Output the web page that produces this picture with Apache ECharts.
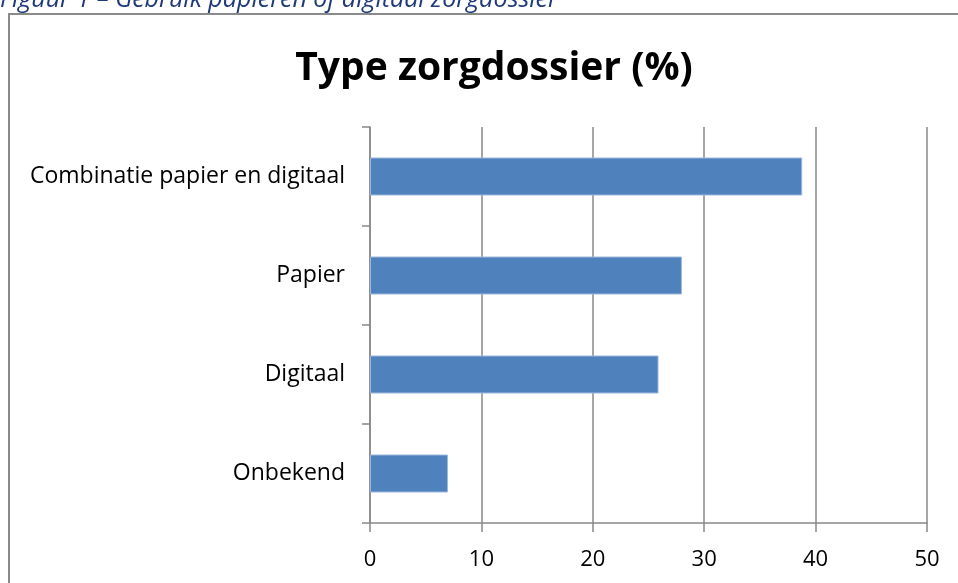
<!DOCTYPE html>
<html>
<head>
<meta charset="utf-8">
<script src="https://cdn.jsdelivr.net/npm/echarts@6/dist/echarts.min.js"></script>
<style>
html,body{margin:0;padding:0;background:#fff;}
#c{width:958px;height:583px;}
</style>
</head>
<body>
<div id="c"></div>
<script>
const categories = ["Combinatie papier en digitaal", "Papier", "Digitaal", "Onbekend"];
const values = [38.8, 28.0, 25.9, 7.0];
const xTicks = [0, 10, 20, 30, 40, 50];
const titleText = "Type zorgdossier (%)";
const captionText = "Figuur 1 \u2013 Gebruik papieren of digitaal zorgdossier";

const chart = echarts.init(document.getElementById('c'), null, {renderer: 'canvas'});
const FONT = '"Open Sans", "Noto Sans", sans-serif';
chart.setOption({
  animation: false,
  backgroundColor: '#fff',
  title: {
    text: titleText,
    left: 489, top: 44, textAlign: 'center',
    textStyle: {fontFamily: FONT, fontWeight: 'bold', fontSize: 39, color: '#000'}
  },
  graphic: [
    {type: 'rect', shape: {x: 9, y: 14, width: 1200, height: 1200}, style: {fill: null, stroke: '#8a8a8a', lineWidth: 2}, silent: true},
    {type: 'text', left: 0, top: -13, style: {text: captionText, fontFamily: FONT, fontStyle: 'italic', fontSize: 25, fill: '#1f3a7a'}}
  ],
  grid: {left: 370, right: 31, top: 127, bottom: 60, containLabel: false},
  xAxis: {
    type: 'value', min: xTicks[0], max: xTicks[xTicks.length - 1], interval: 10,
    axisLine: {show: true, lineStyle: {color: '#888', width: 1.5}},
    axisTick: {show: true, length: 9, lineStyle: {color: '#888', width: 1.5}},
    splitLine: {show: true, lineStyle: {color: '#888', width: 1.5}},
    axisLabel: {fontFamily: FONT, fontSize: 22, color: '#000', margin: 26}
  },
  yAxis: {
    type: 'category', data: categories, inverse: true,
    axisLine: {show: true, lineStyle: {color: '#888', width: 1.5}},
    axisTick: {show: true, length: 8, lineStyle: {color: '#888', width: 1.5}},
    axisLabel: {fontFamily: FONT, fontSize: 23, color: '#000', margin: 25}
  },
  series: [{
    type: 'bar', data: values, barWidth: 38,
    itemStyle: {color: '#4f81bd', borderColor: '#9cb8dc', borderWidth: 1}
  }]
});
</script>
</body>
</html>
